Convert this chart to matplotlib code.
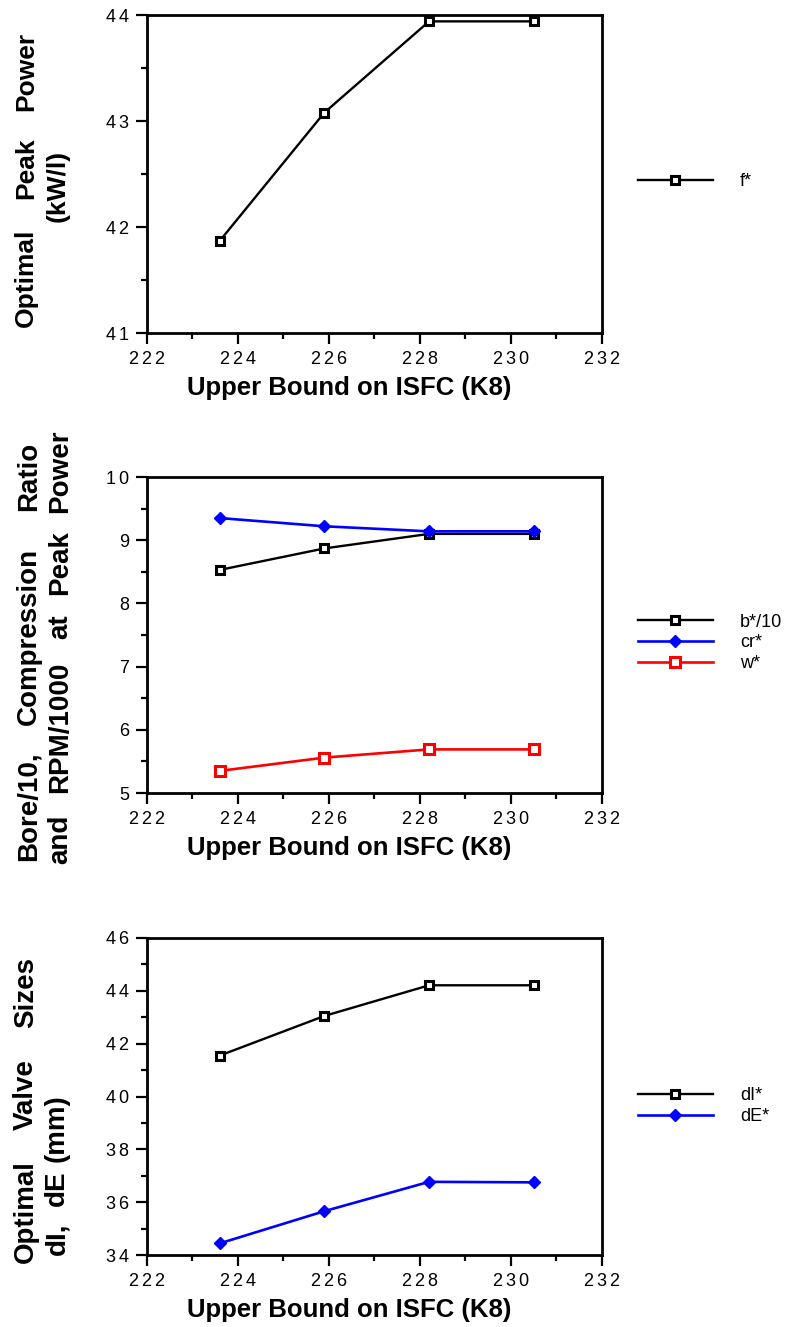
import matplotlib
matplotlib.use("Agg")
import matplotlib.pyplot as plt
from matplotlib.ticker import MultipleLocator, FuncFormatter

plt.rcParams['font.family'] = ['Liberation Sans', 'DejaVu Sans']

# ---- data ----
isfc_bound = [223.6, 225.9, 228.2, 230.5]
f_star = [41.87, 43.08, 43.94, 43.94]
b_star_10 = [8.53, 8.87, 9.10, 9.10]
cr_star = [9.35, 9.22, 9.14, 9.14]
w_star = [5.35, 5.56, 5.69, 5.69]
dI_star = [41.55, 43.05, 44.21, 44.21]
dE_star = [34.44, 35.66, 36.77, 36.75]

xlabel = "Upper Bound on ISFC (K8)"

W, H = 789, 1327
fig = plt.figure(figsize=(W / 100, H / 100), dpi=100)


def px_rect(left, top, right, bottom):
    return [left / W, 1 - bottom / H, (right - left) / W, (bottom - top) / H]


def spaced(v, pos):
    return '\u2006'.join(f'{v:.0f}')


def style_axes(ax, ylim, ymajor, yminor):
    ax.set_xlim(222, 232)
    ax.set_ylim(*ylim)
    ax.xaxis.set_major_locator(MultipleLocator(2))
    ax.xaxis.set_minor_locator(MultipleLocator(1))
    ax.yaxis.set_major_locator(MultipleLocator(ymajor))
    ax.yaxis.set_minor_locator(MultipleLocator(yminor))
    ax.xaxis.set_major_formatter(FuncFormatter(spaced))
    ax.yaxis.set_major_formatter(FuncFormatter(spaced))
    for s in ax.spines.values():
        s.set_linewidth(2.0)
    ax.tick_params(which='major', direction='out', length=8, width=1.6,
                   labelsize=13, pad=5)
    ax.tick_params(which='minor', direction='out', length=4.5, width=1.6)
    ax.set_xlabel(xlabel, fontsize=18.5, fontweight='bold', labelpad=6)
    ax.xaxis.label.set_x((349 - 147) / (602 - 147))


def legend_at(ax, x_px, y_px):
    ax.legend(loc='center left', bbox_to_anchor=(x_px / W, 1 - y_px / H),
              bbox_transform=fig.transFigure, frameon=False, fontsize=13,
              handlelength=4.15, handletextpad=1.5, labelspacing=0.22,
              borderpad=0, borderaxespad=0, numpoints=1)


def ylabel_words(words, size):
    for text, x, y in words:
        fig.text(x / W, 1 - y / H, text, rotation=90, ha='center', va='center',
                 fontsize=size, fontweight='bold')


sq = dict(marker='s', markersize=5.5, markeredgewidth=2.2, markerfacecolor='white')
dm = dict(marker='D', markersize=6.5, markeredgewidth=1, markerfacecolor='#0000ff')

# ---- panel 1 ----
ax1 = fig.add_axes(px_rect(147, 15, 602, 333))
ax1.plot(isfc_bound, f_star, color='black', lw=1.7, label='f*', **sq)
style_axes(ax1, (41, 44), 1, 0.5)
legend_at(ax1, 638, 182)
ylabel_words([("Optimal", 26, 278), ("Peak", 26, 168), ("Power", 26, 71),
              ("(kW/l)", 58, 186)], 19)

# ---- panel 2 ----
ax2 = fig.add_axes(px_rect(147, 477, 602, 793))
ax2.plot(isfc_bound, b_star_10, color='black', lw=1.7, label='b*/10', **sq)
ax2.plot(isfc_bound, cr_star, color='#0000ff', lw=1.9, label='cr*', **dm)
ax2.plot(isfc_bound, w_star, color='#ff0000', lw=1.9, label='w*',
         marker='s', markersize=6.5, markeredgewidth=2.2, markerfacecolor='white')
style_axes(ax2, (5, 10), 1, 0.5)
legend_at(ax2, 638, 643)
ylabel_words([("Bore/10,", 29, 806), ("Compression", 29, 636), ("Ratio", 29, 476),
              ("and", 60, 839), ("RPM/1000", 60, 727), ("at", 60, 627),
              ("Peak", 60, 563), ("Power", 60, 471)], 20)

# ---- panel 3 ----
ax3 = fig.add_axes(px_rect(147, 938, 602, 1255))
ax3.plot(isfc_bound, dI_star, color='black', lw=1.7, label='dI*', **sq)
ax3.plot(isfc_bound, dE_star, color='#0000ff', lw=1.9, label='dE*', **dm)
style_axes(ax3, (34, 46), 2, 1)
legend_at(ax3, 638, 1106)
ylabel_words([("Optimal", 26, 1212), ("Valve", 26, 1095), ("Sizes", 26, 993),
              ("dI,", 57, 1239), ("dE", 57, 1188), ("(mm)", 57, 1128)], 20)

fig.savefig("out.png", dpi=100)
